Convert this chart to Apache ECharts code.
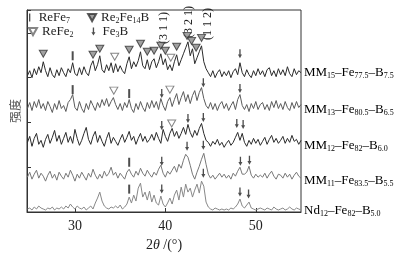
<!DOCTYPE html>
<html>
<head>
<meta charset="utf-8">
<script src="https://cdn.jsdelivr.net/npm/echarts@6/dist/echarts.min.js"></script>
<style>
  html, body { margin: 0; padding: 0; background: #fff; }
  #chart { width: 399px; height: 257px; }
</style>
</head>
<body>
<div id="chart"></div>
<script>
// 2θ sampling grid (deg)
var thetaStart = 24.75;
var thetaStep = 0.25;
var pointCount = 122;
var twoTheta = Array.from({ length: pointCount }, function (_, i) { return thetaStart + i * thetaStep; });

var xTicks = [30, 40, 50];

// intensities, already stacked with offsets (arbitrary units)
var mm15 = [
  137,142,135,144,138,146,140,151, 142,136,145,138,135,143,137,145,
  140,136,144,140,150,139,137,145, 138,146,140,137,147,152,142,148,
  157,143,140,148,142,150,140,149, 141,147,142,139,149,156,144,151,
  146,152,161,147,144,153,143,151, 154,145,151,159,148,154,143,148,
  142,151,158,147,153,159,165,171, 157,164,149,155,161,167,151,144,
  140,136,142,135,140,143,136,141, 137,142,135,141,144,138,150,140,
  136,143,138,135,142,137,144,138, 142,136,143,145,137,142,136,144,
  138,143,137,146,139,136,144,138, 142,140
];
var mm13 = [
  104,110,102,111,105,113,104,109, 102,111,106,100,109,103,112,104,
  107,101,110,113,118,105,102,111, 104,100,109,103,112,107,102,110,
  105,113,107,114,106,111,115,108, 103,109,102,110,105,113,104,100,
  109,103,111,105,101,110,104,112, 105,111,103,114,107,102,111,115,
  106,113,119,108,115,121,111,118, 109,117,122,112,120,125,114,107,
  104,110,103,109,102,108,111,104, 109,102,107,111,103,113,118,107,
  103,108,101,109,104,111,103,108, 110,103,108,102,111,105,112,104,
  109,103,111,105,102,110,104,111, 105,108
];
var mm12 = [
  70,76,66,74,79,68,72,65, 73,78,69,75,82,71,77,68,
  74,80,70,76,69,83,74,67, 72,79,85,73,68,76,81,70,
  77,71,66,74,80,69,75,71, 67,73,78,70,75,81,72,76,
  68,74,79,71,76,70,73,78, 72,80,74,69,83,76,71,79,
  84,76,81,74,79,85,78,88, 80,75,82,77,84,89,79,72,
  70,66,71,68,73,67,70,65, 69,72,67,70,75,80,72,79,
  70,66,72,68,74,69,73,67, 71,75,68,73,77,70,74,69,
  72,76,69,74,70,77,71,73, 68,72
];
var mm11 = [
  35,40,33,38,42,34,39,36, 31,37,41,34,38,32,40,36,
  33,39,35,42,37,31,38,34, 40,36,32,39,35,43,37,33,
  38,34,41,36,39,45,37,40, 34,39,36,33,40,43,38,35,
  41,37,44,39,36,42,38,35, 40,37,43,47,39,35,41,38,
  42,46,40,48,44,52,58,55, 47,38,33,40,46,53,59,48,
  38,34,37,33,36,39,35,38, 34,37,33,39,36,41,45,38,
  38,40,46,37,34,38,35,37, 35,39,34,38,41,36,33,38,
  37,34,39,35,38,33,37,40, 36,34
];
var nd12 = [
  3,4,2,5,3,6,4,3, 2,4,3,5,2,4,3,5,
  3,6,4,8,5,3,6,4, 3,5,2,4,6,3,9,14,
  20,11,6,4,3,5,4,6, 4,7,3,5,8,15,9,17,
  11,24,29,15,20,12,21,10, 17,9,7,16,8,5,9,14,
  8,17,22,12,25,15,28,20, 24,15,22,28,19,31,26,10,
  5,3,2,4,3,2,3,2, 3,2,4,3,5,8,13,6,
  4,7,10,4,3,2,3,4, 3,2,4,3,2,5,3,2,
  3,4,2,3,5,3,2,4, 3,2
];

// phase markers [2θ, height]
var re2fe14bPeaks = [
  [26.5,159],[32.0,158],[32.75,164],[36.0,163],[37.25,169],[38.0,161],[38.75,162],
  [39.5,167],[40.0,162],[41.25,166],[42.4,177],[42.9,172],[43.4,165],[44.0,175]
];
var refe2Peaks = [[34.4,156],[40.6,155],[34.3,122],[40.5,123],[40.7,89]];
var refe7Peaks = [[29.75,157],[29.75,123],[36.0,119],[36.0,50],[36.0,23]];
var fe3bPeaks = [
  [48.25,159],
  [39.6,119],[44.2,130],[48.25,124],
  [39.6,87],[42.5,94],[44.2,95],[47.9,89],[48.6,88],
  [39.6,51],[42.4,66],[44.2,67],[48.3,51],[49.3,52],
  [39.6,23],[44.2,39],[48.25,20],[49.2,18]
];

var sampleLabels = [
  '{b|MM}{s|15}{b|–Fe}{s|77.5}{b|–B}{s|7.5}',
  '{b|MM}{s|13}{b|–Fe}{s|80.5}{b|–B}{s|6.5}',
  '{b|MM}{s|12}{b|–Fe}{s|82}{b|–B}{s|6.0}',
  '{b|MM}{s|11}{b|–Fe}{s|83.5}{b|–B}{s|5.5}',
  '{b|Nd}{s|12}{b|–Fe}{s|82}{b|–B}{s|5.0}'
];
var sampleLabelY = [73, 110, 146, 181, 211];

var curves = [mm15, mm13, mm12, mm11, nd12];
var curveColors = ['#2a2a2a', '#5a5a5a', '#2a2a2a', '#777', '#888'];

var serif = 'Liberation Serif';
var subRich = {
  b: { fontFamily: serif, fontSize: 13, color: '#222', lineHeight: 15 },
  s: { fontFamily: serif, fontSize: 8, color: '#222', lineHeight: 15, verticalAlign: 'bottom', padding: [6, 0, 0, 0] }
};
var legendNames = {
  'ReFe7': '{b|ReFe}{s|7}',
  'Re2Fe14B': '{b|Re}{s|2}{b|Fe}{s|14}{b|B}',
  'ReFe2': '{b|ReFe}{s|2}',
  'Fe3B': '{b|Fe}{s|3}{b|B}'
};

var triDown = 'path://M0,0 L10,0 L5,9 Z';
var arrowDown = 'path://M2,0 L4,0 L4,7 L6,7 L3,12 L0,7 L2,7 Z';
var bar = 'path://M0,0 L1,0 L1,6 L0,6 Z';

var myChart = echarts.init(document.getElementById('chart'));

var series = curves.map(function (vals, k) {
  return {
    type: 'line',
    name: 'curve' + k,
    showSymbol: false,
    silent: true,
    lineStyle: { width: 1, color: curveColors[k] },
    data: twoTheta.map(function (t, i) { return [t, vals[i]]; })
  };
});
series.push(
  { type: 'scatter', name: 'ReFe7', symbol: bar, symbolSize: [2, 9], itemStyle: { color: '#222' }, data: refe7Peaks, z: 5 },
  { type: 'scatter', name: 'Re2Fe14B', symbol: triDown, symbolSize: [8, 7], itemStyle: { color: '#8a8a8a', borderColor: '#333', borderWidth: 1 }, data: re2fe14bPeaks, z: 5 },
  { type: 'scatter', name: 'ReFe2', symbol: triDown, symbolSize: [8, 7], itemStyle: { color: '#fff', borderColor: '#666', borderWidth: 1 }, data: refe2Peaks, z: 5 },
  { type: 'scatter', name: 'Fe3B', symbol: arrowDown, symbolSize: [4, 9], itemStyle: { color: '#222' }, data: fe3bPeaks, z: 5 }
);

var graphics = sampleLabels.map(function (txt, k) {
  return {
    type: 'text', left: 304, top: sampleLabelY[k] - 7,
    style: { text: txt, rich: subRich }
  };
});
[['(3 1 1)', 164, 28], ['(3 2 1)', 189, 22], ['(1 1 2)', 208, 24]].forEach(function (m) {
  graphics.push({
    type: 'text', x: m[1], y: m[2], rotation: Math.PI / 2,
    style: { text: m[0], font: '12px "Liberation Serif"', fill: '#222', align: 'center', verticalAlign: 'middle' }
  });
});

myChart.setOption({
  animation: false,
  grid: { left: 27, top: 10, width: 274, height: 203, show: true, borderColor: '#333', borderWidth: 1 },
  legend: [
    {
      data: [{ name: 'ReFe7', icon: bar }, { name: 'Re2Fe14B', icon: triDown }],
      left: 29, top: 11, padding: 0, itemWidth: 8, itemHeight: 8, itemGap: 17,
      formatter: function (n) { return legendNames[n]; },
      textStyle: { rich: subRich }
    },
    {
      data: [{ name: 'ReFe2', icon: triDown }, { name: 'Fe3B', icon: arrowDown }],
      left: 28, top: 25, padding: 0, itemWidth: 8, itemHeight: 8, itemGap: 18,
      formatter: function (n) { return legendNames[n]; },
      textStyle: { rich: subRich }
    }
  ],
  xAxis: {
    type: 'value', min: 24.7, max: 55,
    name: '{n|2}{i|θ}{n| /(°)}', nameLocation: 'middle', nameGap: 26,
    nameTextStyle: {
      rich: {
        n: { fontFamily: serif, fontSize: 14, color: '#222' },
        i: { fontFamily: serif, fontSize: 14, fontStyle: 'italic', color: '#222' }
      }
    },
    axisLine: { lineStyle: { color: '#333' } },
    axisTick: { inside: true, length: 4, customValues: xTicks, lineStyle: { color: '#333' } },
    axisLabel: { customValues: xTicks, margin: 7, fontFamily: serif, fontSize: 14, color: '#222' },
    splitLine: { show: false }
  },
  yAxis: {
    type: 'value', min: 0, max: 203, interval: 45,
    name: '强度', nameLocation: 'middle', nameRotate: 90, nameGap: 6,
    nameTextStyle: { fontFamily: 'Noto Sans CJK SC', fontSize: 12, color: '#555' },
    axisLine: { show: true, lineStyle: { color: '#333' } },
    axisTick: { inside: true, length: 4, lineStyle: { color: '#333' } },
    axisLabel: { show: false },
    splitLine: { show: false }
  },
  graphic: graphics,
  series: series
});
</script>
</body>
</html>
